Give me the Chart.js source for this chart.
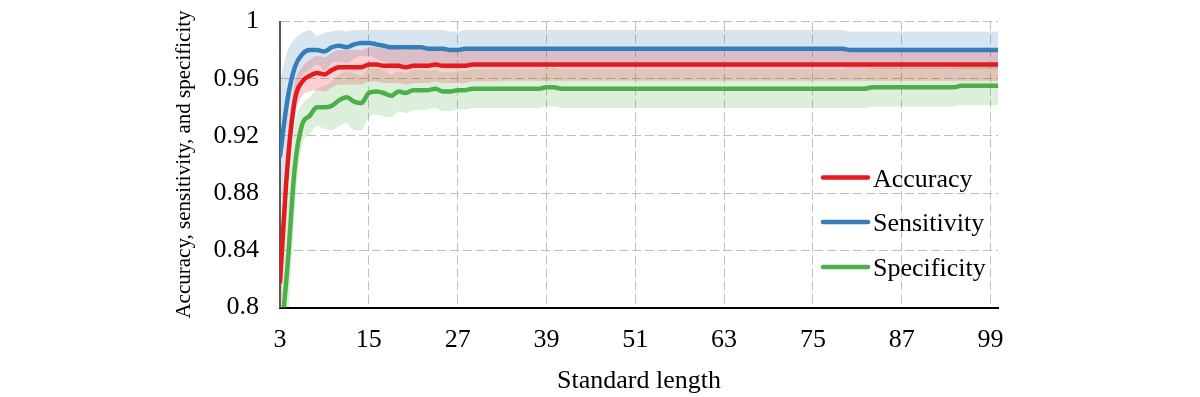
<!DOCTYPE html>
<html>
<head>
<meta charset="utf-8">
<script src="https://cdn.jsdelivr.net/npm/chart.js@4.4.1/dist/chart.umd.min.js"></script>
<style>
html,body{margin:0;padding:0;background:#fff;}
#wrap{width:1200px;height:397px;position:relative;}
</style>
</head>
<body>
<div id="wrap"><canvas id="c" width="1200" height="397"></canvas></div>
<script>
// ---- data ----
const lengths = [
  3,4,5,6,7,8,9,10,11,12,
  13,14,15,16,17,18,19,20,21,22,
  23,24,25,26,27,28,29,30,31,32,
  33,34,35,36,37,38,39,40,41,42,
  43,44,45,46,47,48,49,50,51,52,
  53,54,55,56,57,58,59,60,61,62,
  63,64,65,66,67,68,69,70,71,72,
  73,74,75,76,77,78,79,80,81,82,
  83,84,85,86,87,88,89,90,91,92,
  93,94,95,96,97,98,99,100
];
const accuracy = [
  0.818,0.898,0.945,0.958,0.962,0.964,0.963,0.966,0.968,0.968,
  0.968,0.968,0.970,0.970,0.969,0.969,0.969,0.968,0.969,0.969,
  0.969,0.970,0.969,0.969,0.969,0.969,0.970,0.970,0.970,0.970,
  0.970,0.970,0.970,0.970,0.970,0.970,0.970,0.970,0.970,0.970,
  0.970,0.970,0.970,0.970,0.970,0.970,0.970,0.970,0.970,0.970,
  0.970,0.970,0.970,0.970,0.970,0.970,0.970,0.970,0.970,0.970,
  0.970,0.970,0.970,0.970,0.970,0.970,0.970,0.970,0.970,0.970,
  0.970,0.970,0.970,0.970,0.970,0.970,0.970,0.970,0.970,0.970,
  0.970,0.970,0.970,0.970,0.970,0.970,0.970,0.970,0.970,0.970,
  0.970,0.970,0.970,0.970,0.970,0.970,0.970,0.970
];
const accuracyStd = [
  0.030,0.020,0.012,0.010,0.011,0.012,0.012,0.012,0.012,0.012,
  0.012,0.012,0.012,0.012,0.012,0.012,0.012,0.012,0.012,0.012,
  0.012,0.012,0.012,0.012,0.012,0.012,0.012,0.012,0.012,0.012,
  0.0115,0.0115,0.0115,0.0115,0.0115,0.0115,0.0115,0.0115,0.0115,0.0115,
  0.0115,0.0115,0.0115,0.0115,0.0115,0.0115,0.0115,0.0115,0.0115,0.0115,
  0.0115,0.0115,0.0115,0.0115,0.0115,0.0115,0.0115,0.0115,0.0115,0.0115,
  0.0115,0.0115,0.0115,0.0115,0.0115,0.0115,0.0115,0.0115,0.0115,0.0115,
  0.0115,0.0115,0.0115,0.0115,0.0115,0.0115,0.0115,0.0115,0.0115,0.0115,
  0.0115,0.0115,0.0115,0.0115,0.0115,0.0115,0.0115,0.0115,0.0115,0.0115,
  0.0115,0.0115,0.0115,0.0115,0.0115,0.0115,0.0115,0.0115
];
const sensitivity = [
  0.906,0.945,0.968,0.977,0.980,0.980,0.979,0.982,0.983,0.982,
  0.984,0.985,0.985,0.984,0.983,0.982,0.982,0.982,0.982,0.982,
  0.981,0.981,0.981,0.980,0.980,0.981,0.981,0.981,0.981,0.981,
  0.981,0.981,0.981,0.981,0.981,0.981,0.981,0.981,0.981,0.981,
  0.981,0.981,0.981,0.981,0.981,0.981,0.981,0.981,0.981,0.981,
  0.981,0.981,0.981,0.981,0.981,0.981,0.981,0.981,0.981,0.981,
  0.981,0.981,0.981,0.981,0.981,0.981,0.981,0.981,0.981,0.981,
  0.981,0.981,0.981,0.981,0.981,0.981,0.981,0.980,0.980,0.980,
  0.980,0.980,0.980,0.980,0.980,0.980,0.980,0.980,0.980,0.980,
  0.980,0.980,0.980,0.980,0.980,0.980,0.980,0.980
];
const sensitivityStd = [
  0.052,0.034,0.020,0.015,0.014,0.010,0.013,0.011,0.011,0.011,
  0.010,0.009,0.009,0.010,0.011,0.012,0.012,0.012,0.012,0.012,
  0.013,0.013,0.013,0.013,0.013,0.013,0.013,0.013,0.013,0.013,
  0.013,0.013,0.013,0.013,0.013,0.013,0.013,0.013,0.013,0.013,
  0.013,0.013,0.013,0.013,0.013,0.013,0.013,0.013,0.013,0.013,
  0.013,0.013,0.013,0.013,0.013,0.013,0.013,0.013,0.013,0.013,
  0.013,0.013,0.013,0.013,0.013,0.013,0.013,0.013,0.013,0.013,
  0.013,0.013,0.013,0.013,0.013,0.013,0.013,0.013,0.013,0.013,
  0.013,0.013,0.013,0.013,0.013,0.013,0.013,0.013,0.013,0.013,
  0.013,0.013,0.013,0.013,0.013,0.013,0.013,0.013
];
const specificity = [
  0.770,0.828,0.898,0.928,0.934,0.940,0.940,0.941,0.945,0.947,
  0.944,0.943,0.950,0.951,0.950,0.948,0.951,0.950,0.952,0.952,
  0.952,0.953,0.951,0.951,0.952,0.952,0.953,0.953,0.953,0.953,
  0.953,0.953,0.953,0.953,0.953,0.953,0.954,0.954,0.953,0.953,
  0.953,0.953,0.953,0.953,0.953,0.953,0.953,0.953,0.953,0.953,
  0.953,0.953,0.953,0.953,0.953,0.953,0.953,0.953,0.953,0.953,
  0.953,0.953,0.953,0.953,0.953,0.953,0.953,0.953,0.953,0.953,
  0.953,0.953,0.953,0.953,0.953,0.953,0.953,0.953,0.953,0.953,
  0.954,0.954,0.954,0.954,0.954,0.954,0.954,0.954,0.954,0.954,
  0.954,0.954,0.955,0.955,0.955,0.955,0.955,0.955
];
const specificityStd = [
  0.050,0.045,0.030,0.014,0.013,0.013,0.015,0.017,0.018,0.018,
  0.020,0.019,0.017,0.016,0.016,0.015,0.014,0.014,0.014,0.014,
  0.0135,0.0135,0.0135,0.0135,0.0135,0.0135,0.0135,0.0135,0.0135,0.0135,
  0.0135,0.0135,0.0135,0.0135,0.0135,0.0135,0.0135,0.0135,0.0135,0.0135,
  0.0135,0.0135,0.0135,0.0135,0.0135,0.0135,0.0135,0.0135,0.0135,0.0135,
  0.0135,0.0135,0.0135,0.0135,0.0135,0.0135,0.0135,0.0135,0.0135,0.0135,
  0.0135,0.0135,0.0135,0.0135,0.0135,0.0135,0.0135,0.0135,0.0135,0.0135,
  0.0135,0.0135,0.0135,0.0135,0.0135,0.0135,0.0135,0.0135,0.0135,0.0135,
  0.0135,0.0135,0.0135,0.0135,0.0135,0.0135,0.0135,0.0135,0.0135,0.0135,
  0.0135,0.0135,0.0135,0.0135,0.0135,0.0135,0.0135,0.0135
];
const seriesNames = ['Accuracy', 'Sensitivity', 'Specificity'];
const xTickValues = [3, 15, 27, 39, 51, 63, 75, 87, 99];
const yTickValues = [0.8, 0.84, 0.88, 0.92, 0.96, 1];
const xTitle = 'Standard length';
const yTitle = 'Accuracy, sensitivity, and specificity';

// ---- styling ----
const lineColors = ['#e41a1c', '#377eb8', '#4daf4a'];
const bandColors = ['rgba(228,26,28,0.2)', 'rgba(55,126,184,0.2)', 'rgba(77,175,74,0.2)'];
const FONT = '"Liberation Serif", "Times New Roman", serif';

const means = [accuracy, sensitivity, specificity];
const stds = [accuracyStd, sensitivityStd, specificityStd];

const datasets = [];
means.forEach((m, i) => {
  datasets.push({
    label: seriesNames[i] + ' upper',
    data: m.map((v, k) => v + stds[i][k]),
    borderWidth: 0, pointRadius: 0, fill: false,
    backgroundColor: bandColors[i], borderColor: 'rgba(0,0,0,0)',
    cubicInterpolationMode: 'monotone'
  });
  datasets.push({
    label: seriesNames[i] + ' lower',
    data: m.map((v, k) => v - stds[i][k]),
    borderWidth: 0, pointRadius: 0, fill: '-1',
    backgroundColor: bandColors[i], borderColor: 'rgba(0,0,0,0)',
    cubicInterpolationMode: 'monotone'
  });
});
means.forEach((m, i) => {
  datasets.push({
    label: seriesNames[i],
    data: m,
    borderColor: lineColors[i],
    backgroundColor: lineColors[i],
    borderWidth: 4.5, pointRadius: 0, fill: false,
    cubicInterpolationMode: 'monotone',
    borderCapStyle: 'round', borderJoinStyle: 'round'
  });
});

const insideLegend = {
  id: 'insideLegend',
  afterDatasetsDraw(chart) {
    const ctx = chart.ctx;
    const a = chart.chartArea;
    const x1 = a.right - 175, x2 = a.right - 130, tx = a.right - 125;
    const ys = [a.top + 156, a.top + 200.5, a.top + 245.5];
    ctx.save();
    seriesNames.forEach((name, i) => {
      ctx.beginPath();
      ctx.strokeStyle = lineColors[i];
      ctx.lineWidth = 4.5;
      ctx.lineCap = 'round';
      ctx.moveTo(x1, ys[i]);
      ctx.lineTo(x2, ys[i]);
      ctx.stroke();
      ctx.fillStyle = '#000';
      ctx.font = '26px ' + FONT;
      ctx.textAlign = 'left';
      ctx.textBaseline = 'alphabetic';
      ctx.fillText(name, tx, ys[i] + 9);
    });
    ctx.restore();
  }
};

new Chart(document.getElementById('c'), {
  type: 'line',
  data: { labels: lengths, datasets },
  plugins: [insideLegend],
  options: {
    responsive: false,
    devicePixelRatio: 1,
    animation: false,
    layout: { padding: { left: 172, right: 202, top: 21.5, bottom: 0 } },
    plugins: {
      legend: { display: false },
      tooltip: { enabled: false },
      filler: { drawTime: 'beforeDatasetsDraw', propagate: false }
    },
    scales: {
      x: {
        type: 'linear',
        min: 3, max: 100,
        afterBuildTicks: (s) => { s.ticks = xTickValues.map(v => ({ value: v })); },
        afterFit: (s) => { s.height = 89.5; s.paddingLeft = 0; s.paddingRight = 0; },
        grid: { color: '#bfbfbf', lineWidth: 1, drawTicks: false },
        border: { display: true, color: '#000', width: 2, dash: [9, 4] },
        ticks: { font: { family: FONT, size: 26 }, color: '#000', padding: 17, maxRotation: 0, autoSkip: false },
        title: { display: true, text: xTitle, font: { family: FONT, size: 26 }, color: '#000', padding: { top: 3, bottom: 0 } }
      },
      y: {
        min: 0.8, max: 1,
        afterBuildTicks: (s) => { s.ticks = yTickValues.map(v => ({ value: v })); },
        afterFit: (s) => { s.width = 108; s.paddingTop = 0; s.paddingBottom = 0; },
        grid: { color: '#bfbfbf', lineWidth: 1, drawTicks: false },
        border: { display: true, color: '#595959', width: 2, dash: [9, 4] },
        ticks: {
          font: { family: FONT, size: 26 }, color: '#000', padding: 21,
          callback: (v) => String(Math.round(v * 100) / 100)
        },
        title: { display: true, text: yTitle, font: { family: FONT, size: 21 }, color: '#000', padding: { top: 0, bottom: 0 } }
      }
    }
  }
});
</script>
</body>
</html>
